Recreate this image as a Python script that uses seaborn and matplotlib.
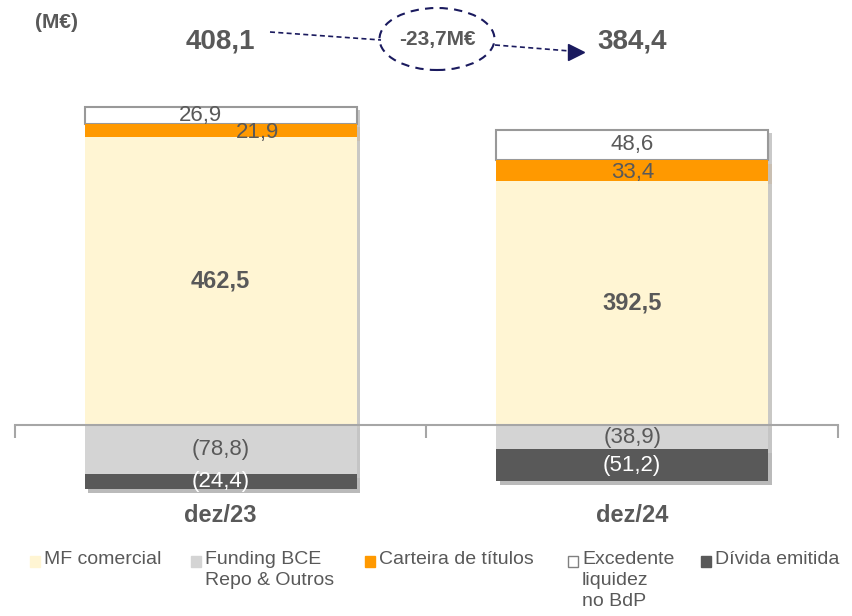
import matplotlib
matplotlib.use('Agg')
import numpy as np
import matplotlib.pyplot as plt
import matplotlib.patheffects as pe
from matplotlib.patches import Rectangle, Ellipse
from matplotlib.lines import Line2D
import seaborn as sns

# data (M€)
periods = ['dez/23', 'dez/24']
mf_comercial = [462.5, 392.5]
carteira = [21.9, 33.4]
excedente = [26.9, 48.6]
funding_bce = [-78.8, -38.9]
divida = [-24.4, -51.2]
totals = [408.1, 384.4]
change_label = '-23,7M€'

legend_labels = ['MF comercial', 'Funding BCE\nRepo & Outros', 'Carteira de títulos',
                 'Excedente\nliquidez\nno BdP', 'Dívida emitida']

c_mf = '#FFF5D3'
c_fund = '#D4D4D4'
c_cart = '#FF9900'
c_exc = '#FFFFFF'
c_div = '#595959'
c_txt = '#595959'
navy = '#1A1A5E'


def fmt(v):
    s = f'{abs(v):.1f}'.replace('.', ',')
    return f'({s})' if v < 0 else s


sns.set_style('white')
plt.rcParams['font.family'] = ['Liberation Sans', 'DejaVu Sans']

fig = plt.figure(figsize=(8.53, 6.16), dpi=100)
ax = fig.add_axes([15 / 853, 121 / 616, 823 / 853, 395 / 616])

mf = np.array(mf_comercial)
ca = np.array(carteira)
ex = np.array(excedente)
fu = np.array(funding_bce)
dv = np.array(divida)

shadow = [pe.SimplePatchShadow(offset=(2.5, -2.5), alpha=0.3), pe.Normal()]
layers = [
    (ex, mf + ca, c_exc, '#999999'),
    (ca, mf, c_cart, 'none'),
    (mf, np.zeros(2), c_mf, 'none'),
    (fu, np.zeros(2), c_fund, 'none'),
    (dv, fu, c_div, 'none'),
]
for vals, bot, col, ec in layers:
    n0 = len(ax.patches)
    sns.barplot(x=periods, y=vals, bottom=bot, color=col, saturation=1,
                width=0.66, edgecolor=ec, linewidth=1.5, ax=ax)
    for p in ax.patches[n0:]:
        p.set_path_effects(shadow)

# segment labels
x = np.arange(len(periods))
for i in x:
    dx_ex = -0.05 if i == 0 else 0
    dx_ca = 0.09 if i == 0 else 0
    ax.text(i + dx_ex, mf[i] + ca[i] + ex[i] / 2, fmt(ex[i]), ha='center', va='center',
            fontsize=16, color=c_txt)
    ax.text(i + dx_ca, mf[i] + ca[i] / 2 - 3, fmt(ca[i]), ha='center', va='center',
            fontsize=16, color=c_txt)
    ax.text(i, mf[i] / 2, fmt(mf[i]), ha='center', va='center',
            fontsize=17, color=c_txt, fontweight='bold')
    ax.text(i, fu[i] / 2, fmt(fu[i]), ha='center', va='center', fontsize=16, color=c_txt)
    ax.text(i, fu[i] + dv[i] / 2, fmt(dv[i]), ha='center', va='center', fontsize=16,
            color='white')

ax.set_xlim(-0.5, 1.5)
ax.set_ylim(-112.5, 522.5)
ax.set_ylabel('')
ax.set_yticks([])
for s in ['left', 'right', 'top']:
    ax.spines[s].set_visible(False)
ax.spines['bottom'].set_position(('data', 0))
ax.spines['bottom'].set_color('#A6A6A6')
ax.spines['bottom'].set_linewidth(1.5)
ax.set_xticks(x)
ax.set_xticklabels(periods, fontsize=17, fontweight='bold', color=c_txt)
ax.tick_params(axis='x', which='major', length=0, pad=57)
ax.set_xticks([-0.5, 0.5, 1.5], minor=True)
ax.tick_params(axis='x', which='minor', bottom=True, length=9, width=1.5,
               color='#A6A6A6', direction='out')

# header: totals and change
for i in x:
    ax.text(i, 1.147, fmt(totals[i]), transform=ax.get_xaxis_transform(), ha='center',
            va='center', fontsize=20, fontweight='bold', color=c_txt)
fig.text(35 / 853, 1 - 23 / 616, '(M€)', ha='left', va='center', fontsize=15,
         fontweight='bold', color=c_txt)
fig.text(437 / 853, 1 - 40 / 616, change_label, ha='center', va='center', fontsize=15,
         fontweight='bold', color=c_txt)
fig.add_artist(Ellipse((437 / 853, 1 - 39 / 616), 115 / 853, 62 / 616, transform=fig.transFigure,
                       fill=False, ec=navy, lw=1.5, ls=(0, (4, 3))))
fig.add_artist(Line2D([270 / 853, 381 / 853], [1 - 32 / 616, 1 - 40 / 616],
                      transform=fig.transFigure, color=navy, lw=1.2, ls=(0, (3, 2))))
fig.add_artist(Line2D([495 / 853, 570 / 853], [1 - 45 / 616, 1 - 51 / 616],
                      transform=fig.transFigure, color=navy, lw=1.2, ls=(0, (3, 2))))
fig.add_artist(Line2D([576 / 853], [1 - 51.5 / 616], transform=fig.transFigure,
                      marker='>', markersize=11, color=navy, ls='none'))

# legend (manual)
leg_x = [30, 191, 365, 568, 701]
leg_cols = [c_mf, c_fund, c_cart, c_exc, c_div]
for lx, lab, col in zip(leg_x, legend_labels, leg_cols):
    ec = '#808080' if col == c_exc else col
    fig.add_artist(Rectangle((lx / 853, 1 - 567 / 616), 10 / 853, 11 / 616,
                             transform=fig.transFigure, fc=col, ec=ec, lw=1))
    fig.text((lx + 14) / 853, 1 - 551 / 616, lab, ha='left', va='top', fontsize=14,
             color=c_txt, linespacing=1.3)

fig.savefig('out.png', dpi=100)
